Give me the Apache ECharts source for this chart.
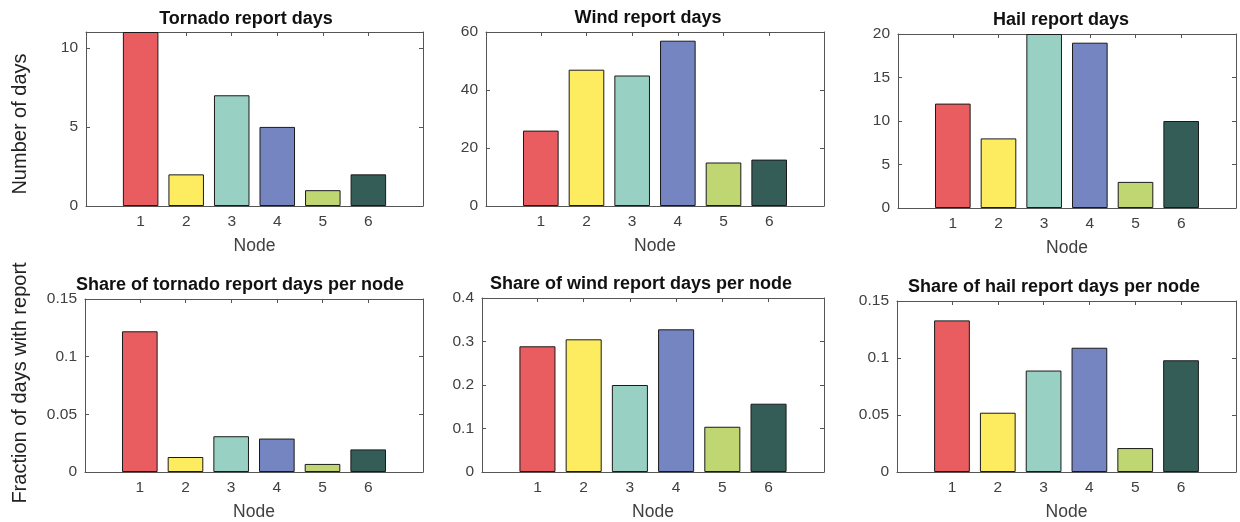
<!DOCTYPE html>
<html><head><meta charset="utf-8">
<script src="https://cdn.jsdelivr.net/npm/echarts@6/dist/echarts.min.js"></script>
<style>html,body{margin:0;padding:0;background:#fff}#c{width:1240px;height:522px}</style>
</head><body><div id="c"></div>
<script>
// ---- data ----
const nodes = [1, 2, 3, 4, 5, 6];
const nodeColors = ['#E95D60', '#FDEB60', '#98D1C3', '#7485C1', '#BFD673', '#355D58'];
const tornadoDays = [11, 2, 7, 5, 1, 2];
const windDays = [26, 47, 45, 57, 15, 16];
const hailDays = [12, 8, 20, 19, 3, 10];
const tornadoShare = [0.122, 0.013, 0.031, 0.029, 0.007, 0.0196];
const windShare = [0.289, 0.305, 0.200, 0.328, 0.104, 0.157];
const hailShare = [0.133, 0.052, 0.089, 0.109, 0.021, 0.098];
const panelTitles = ['Tornado report days', 'Wind report days', 'Hail report days',
  'Share of tornado report days per node', 'Share of wind report days per node', 'Share of hail report days per node'];
const yTickValues = [[0, 5, 10], [0, 20, 40, 60], [0, 5, 10, 15, 20],
  [0, 0.05, 0.1, 0.15], [0, 0.1, 0.2, 0.3, 0.4], [0, 0.05, 0.1, 0.15]];
const yMaxValues = [11, 60, 20, 0.15, 0.4, 0.15];
const xLabel = 'Node';
const yLabelTop = 'Number of days';
const yLabelBottom = 'Fraction of days with report';

// ---- layout ----
const panelValues = [tornadoDays, windDays, hailDays, tornadoShare, windShare, hailShare];
const grids = [
  {left: 86, top: 32, width: 337, height: 174},
  {left: 486, top: 32, width: 338, height: 174},
  {left: 898, top: 34, width: 338, height: 174},
  {left: 85, top: 299, width: 338, height: 175},
  {left: 482, top: 298, width: 342, height: 176},
  {left: 897, top: 301, width: 339, height: 175}
];
const titlePos = [[246, 19], [648, 18], [1061, 20], [240, 285], [641, 284], [1054, 287]];
const FONT = 'Liberation Sans, Arial, Helvetica, sans-serif';
const axisColor = '#555555';
const labelColor = '#404040';

const xAxes = [], yAxes = [], series = [], graphics = [];
grids.forEach((g, i) => {
  xAxes.push({
    type: 'value', gridIndex: i, position: 'bottom', min: -0.2, max: 7.2,
    name: xLabel, nameLocation: 'middle', nameGap: 31,
    nameTextStyle: {fontFamily: FONT, fontSize: 17.5, color: labelColor},
    axisLine: {show: true, lineStyle: {color: axisColor, width: 1}},
    axisTick: {show: true, inside: true, length: 4, customValues: nodes, lineStyle: {color: axisColor}},
    axisLabel: {show: true, customValues: nodes, margin: 8, fontFamily: FONT, fontSize: 15.5, color: labelColor},
    splitLine: {show: false}
  });
  xAxes.push({
    type: 'value', gridIndex: i, position: 'top', min: -0.2, max: 7.2,
    axisLine: {show: true, onZero: false, lineStyle: {color: axisColor, width: 1}},
    axisTick: {show: true, inside: true, length: 4, customValues: nodes, lineStyle: {color: axisColor}},
    axisLabel: {show: false},
    splitLine: {show: false}
  });
  yAxes.push({
    type: 'value', gridIndex: i, position: 'left', min: 0, max: yMaxValues[i],
    axisLine: {show: true, onZero: false, lineStyle: {color: axisColor, width: 1}},
    axisTick: {show: true, inside: true, length: 4, customValues: yTickValues[i], lineStyle: {color: axisColor}},
    axisLabel: {show: true, customValues: yTickValues[i], margin: 8, fontFamily: FONT, fontSize: 15.5, color: labelColor},
    splitLine: {show: false}
  });
  yAxes.push({
    type: 'value', gridIndex: i, position: 'right', min: 0, max: yMaxValues[i],
    axisLine: {show: true, onZero: false, lineStyle: {color: axisColor, width: 1}},
    axisTick: {show: true, inside: true, length: 4, customValues: yTickValues[i], lineStyle: {color: axisColor}},
    axisLabel: {show: false},
    splitLine: {show: false}
  });
  series.push({
    type: 'bar', xAxisIndex: 2 * i, yAxisIndex: 2 * i, barWidth: '78%',
    data: nodes.map((n, k) => ({value: [n, panelValues[i][k]], itemStyle: {color: nodeColors[k]}})),
    itemStyle: {borderColor: '#1a1a1a', borderWidth: 1},
    emphasis: {disabled: true},
    z: 1
  });
  graphics.push({
    type: 'text', x: titlePos[i][0], y: titlePos[i][1],
    style: {text: panelTitles[i], align: 'center', verticalAlign: 'middle',
      font: 'bold 18px ' + FONT, fill: '#111111'}
  });
});
graphics.push({
  type: 'text', x: 20, y: 124, rotation: Math.PI / 2,
  style: {text: yLabelTop, align: 'center', verticalAlign: 'middle', font: '20px ' + FONT, fill: '#222222'}
});
graphics.push({
  type: 'text', x: 20, y: 383, rotation: Math.PI / 2,
  style: {text: yLabelBottom, align: 'center', verticalAlign: 'middle', font: '20px ' + FONT, fill: '#222222'}
});

const chart = echarts.init(document.getElementById('c'), null, {renderer: 'canvas'});
chart.setOption({
  animation: false,
  backgroundColor: '#ffffff',
  grid: grids.map(g => Object.assign({containLabel: false}, g)),
  xAxis: xAxes,
  yAxis: yAxes,
  series: series,
  graphic: graphics
});
</script>
</body></html>
